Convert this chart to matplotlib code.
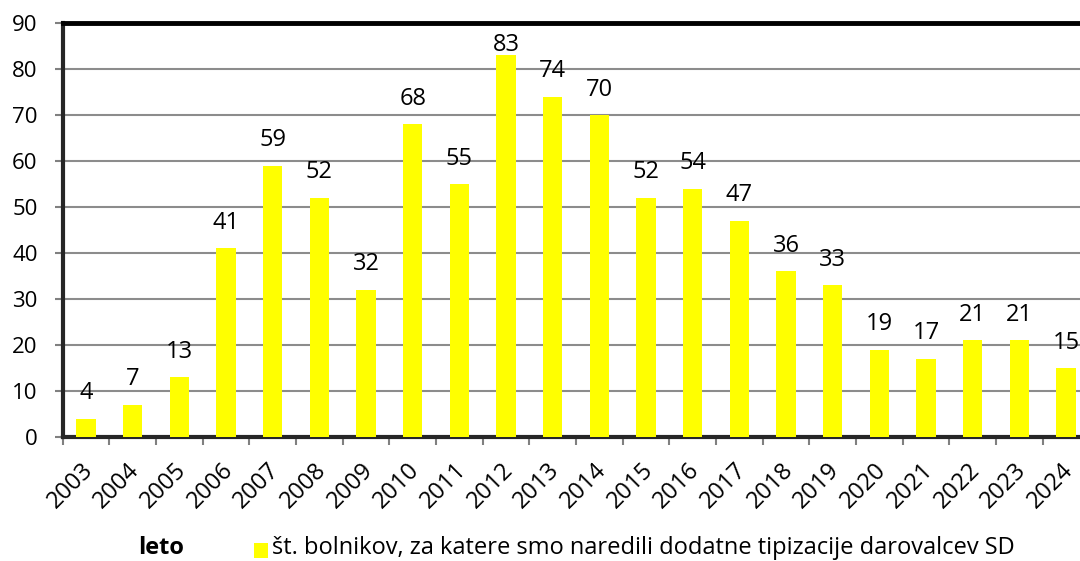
import matplotlib
matplotlib.use("Agg")
import matplotlib.pyplot as plt
from matplotlib.patches import Rectangle
from matplotlib.transforms import ScaledTranslation

years = [str(y) for y in range(2003, 2025)]
values = [4, 7, 13, 41, 59, 52, 32, 68, 55, 83, 74, 70, 52, 54, 47, 36, 33, 19, 17, 21, 21, 15]
y_ticks = list(range(0, 100, 10))
legend_label = "št. bolnikov, za katere smo naredili dodatne tipizacije darovalcev SD"
x_title = "leto"

plt.rcParams['font.family'] = ['Open Sans', 'DejaVu Sans']

W, H = 1080, 561
fig = plt.figure(figsize=(W / 100, H / 100), dpi=100)
left_px, right_px, top_px, bottom_px = 62.7, 1089.3, 23, 437
ax = fig.add_axes([left_px / W, 1 - bottom_px / H, (right_px - left_px) / W, (bottom_px - top_px) / H])

x = list(range(len(years)))
ax.bar(x, values, width=0.41, color='#FFFF00', zorder=3)
ymax = 90
for xi, v in zip(x, values):
    # labels sit above bars but are kept inside the plot area (as Excel does)
    ax.text(xi, min(v + 4.2, ymax - 6.1), str(v), ha='center', va='baseline',
            fontsize=17, color='black')

ax.set_xlim(-0.5, len(years) - 0.5)
ax.set_ylim(0, ymax)
ax.set_yticks(y_ticks)
ax.set_yticklabels([str(t) for t in y_ticks], fontsize=16)
ax.yaxis.grid(True, color='#8c8c8c', linewidth=1.5, zorder=0)
ax.set_axisbelow(True)

ax.set_xticks([i - 0.5 for i in range(len(years) + 1)])
ax.set_xticklabels([''] * (len(years) + 1))
ax.tick_params(axis='x', length=6, width=1.5, color='#808080')
ax.tick_params(axis='y', length=6, width=1.5, color='#808080', pad=12)

lab_tf = ax.get_xaxis_transform() + ScaledTranslation(-0.05, -0.21, fig.dpi_scale_trans)
for xi, yr in zip(x, years):
    ax.text(xi, 0, yr, transform=lab_tf, rotation=45, ha='right', va='top',
            rotation_mode='anchor', fontsize=17, clip_on=False)

for s in ['left', 'bottom']:
    ax.spines[s].set_linewidth(3)
    ax.spines[s].set_color('#262626')
ax.spines['top'].set_linewidth(3.5)
ax.spines['top'].set_color('black')
ax.spines['right'].set_visible(False)

fig.text(161 / W, 1 - 548 / H, x_title, fontsize=17, fontweight='bold', ha='center', va='center')
fig.patches.append(Rectangle((254 / W, 1 - 558 / H), 14 / W, 15 / H, transform=fig.transFigure,
                             facecolor='#FFFF00', edgecolor='none'))
fig.text(272 / W, 1 - 548 / H, legend_label, fontsize=17, ha='left', va='center')

fig.savefig('out.png', dpi=100)
